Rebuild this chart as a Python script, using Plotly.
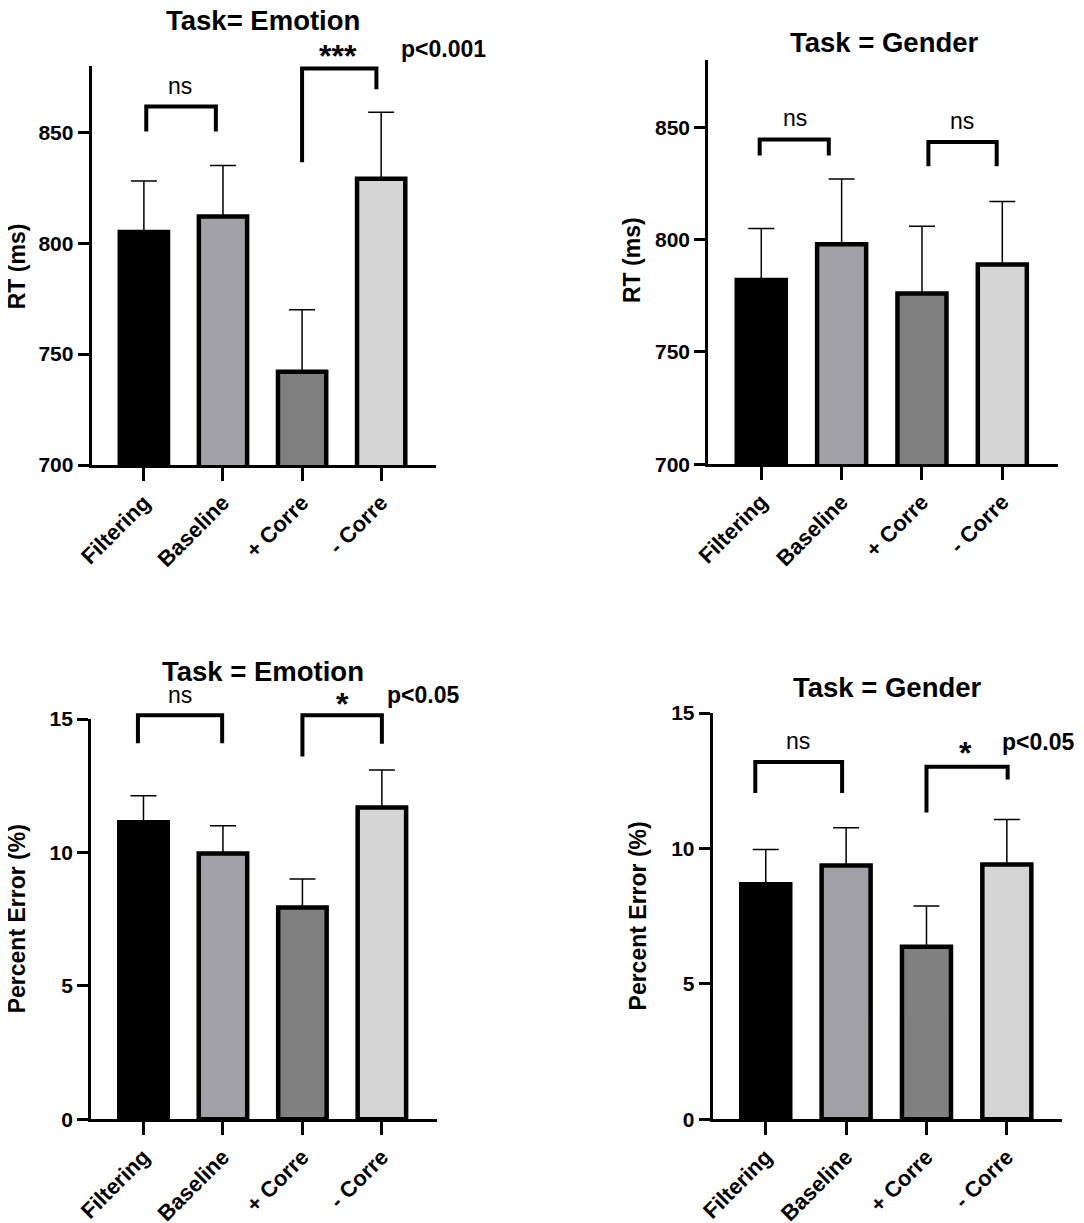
import plotly.graph_objects as go

categorias = ["Filtering", "Baseline", "+ Corre", "- Corre"]
cores = ["#000000", "#a2a2a6", "#808080", "#d5d5d5"]

rt_emocao = [805, 812, 742, 829]
rt_emocao_erro = [23, 23, 28, 30]
rt_genero = [782, 798, 776, 789]
rt_genero_erro = [23, 29, 30, 28]

erro_emocao = [11.13, 9.96, 7.94, 11.69]
erro_emocao_erro = [1.0, 1.04, 1.07, 1.4]
erro_genero = [8.68, 9.37, 6.37, 9.41]
erro_genero_erro = [1.28, 1.4, 1.51, 1.66]

rt_ticks = [700, 750, 800, 850]
erro_ticks = [0, 5, 10, 15]

# colchetes de comparacao: (x esq, x dir, y topo, y perna esq, y perna dir)
colchetes = [
    [(0.03, 0.91, 861.6, 850.3, 850.3), (2.0, 2.94, 878.7, 836.5, 869.4)],
    [(-0.02, 0.84, 844.6, 837.5, 837.5), (2.08, 2.93, 843.5, 832.7, 832.7)],
    [(-0.07, 0.99, 15.14, 14.09, 14.09), (2.0, 3.0, 15.14, 13.6, 14.07)],
    [(-0.13, 0.95, 13.19, 12.05, 12.05), (2.0, 3.01, 13.02, 11.33, 12.55)],
]

# rotulos de significancia: (texto, x, y, tipo)
rotulos = [
    [("ns", 0.46, 871, "ns"), ("***", 2.45, 887, "star"), ("p<0.001", 3.23, 887.6, "p")],
    [("ns", 0.42, 854, "ns"), ("ns", 2.5, 853, "ns")],
    [("ns", 0.46, 15.9, "ns"), ("*", 2.5, 15.8, "star"), ("p<0.05", 3.04, 15.9, "p")],
    [("ns", 0.40, 13.98, "ns"), ("*", 2.49, 13.74, "star"), ("p<0.05", 2.92, 13.94, "p")],
]

paineis = [
    dict(titulo="Task= Emotion", eixo="RT (ms)", medias=rt_emocao, erros=rt_emocao_erro,
         ticks=rt_ticks, faixa=[700, 880],
         dx=[0.0772, 0.3946], dy=[0.6263, 0.9528], tpos=(0.2352, 0.9894), epos=(0.0085, 0.7890)),
    dict(titulo="Task = Gender", eixo="RT (ms)", medias=rt_genero, erros=rt_genero_erro,
         ticks=rt_ticks, faixa=[700, 880],
         dx=[0.6460, 0.9684], dy=[0.6269, 0.9575], tpos=(0.8090, 0.9714), epos=(0.5756, 0.7939)),
    dict(titulo="Task = Emotion", eixo="Percent Error (%)", medias=erro_emocao, erros=erro_emocao_erro,
         ticks=erro_ticks, faixa=[0, 15],
         dx=[0.0766, 0.3955], dy=[0.0913, 0.4186], tpos=(0.2352, 0.4575), epos=(0.0080, 0.2554)),
    dict(titulo="Task = Gender", eixo="Percent Error (%)", medias=erro_genero, erros=erro_genero_erro,
         ticks=erro_ticks, faixa=[0, 15],
         dx=[0.6501, 0.9726], dy=[0.0913, 0.4235], tpos=(0.8118, 0.4440), epos=(0.5812, 0.2572)),
]

FONTE = "Liberation Sans"
posicoes = list(range(len(categorias)))


def em_dominio(v, faixa):
    # valor do eixo y -> fracao do dominio (permite ir acima do topo do eixo)
    return (v - faixa[0]) / (faixa[1] - faixa[0])


fig = go.Figure()
layout = dict(
    template="none",
    width=1084, height=1223,
    margin=dict(l=0, r=0, t=0, b=0, autoexpand=False),
    paper_bgcolor="white", plot_bgcolor="white",
    showlegend=False,
    annotations=[],
    shapes=[],
)

for i, p in enumerate(paineis):
    n = "" if i == 0 else str(i + 1)
    xa, ya = "x" + n, "y" + n

    fig.add_trace(go.Bar(
        x=posicoes, y=p["medias"], width=0.61,
        marker=dict(color=cores, line=dict(color="black", width=4.5)),
        error_y=dict(type="data", array=p["erros"], arrayminus=[0] * 4, symmetric=False,
                     color="black", thickness=1.5, width=13),
        xaxis=xa, yaxis=ya, hoverinfo="skip",
    ))

    for (x0, x1, yt, yl, yr) in colchetes[i]:
        f = p["faixa"]
        caminho = "M{},{} L{},{} L{},{} L{},{}".format(
            x0, em_dominio(yl, f), x0, em_dominio(yt, f),
            x1, em_dominio(yt, f), x1, em_dominio(yr, f))
        layout["shapes"].append(dict(
            type="path", path=caminho, xref=xa, yref=ya + " domain",
            line=dict(color="black", width=4), layer="above",
        ))

    layout["xaxis" + n] = dict(
        domain=p["dx"], anchor=ya, range=[-0.66, 3.69], automargin=False,
        tickvals=posicoes, ticktext=categorias, tickangle=-45,
        tickfont=dict(family=FONTE, size=22, color="black", weight="bold"),
        showline=True, linecolor="black", linewidth=3,
        ticks="outside", ticklen=13, tickwidth=3, tickcolor="black",
        showgrid=False, zeroline=False, fixedrange=True,
    )
    layout["yaxis" + n] = dict(
        domain=p["dy"], anchor=xa, range=p["faixa"], automargin=False,
        tickvals=p["ticks"],
        tickfont=dict(family=FONTE, size=21, color="black", weight="bold"),
        showline=True, linecolor="black", linewidth=3,
        ticks="outside", ticklen=11, tickwidth=3, tickcolor="black",
        showgrid=False, zeroline=False, fixedrange=True,
    )

    layout["annotations"].append(dict(
        text=p["titulo"], x=p["tpos"][0], y=p["tpos"][1], xref="paper", yref="paper",
        showarrow=False, xanchor="center", yanchor="middle",
        font=dict(family=FONTE, size=27.5, color="black", weight="bold"),
    ))
    layout["annotations"].append(dict(
        text=p["eixo"], x=p["epos"][0], y=p["epos"][1], xref="paper", yref="paper",
        showarrow=False, xanchor="center", yanchor="middle", textangle=-90,
        font=dict(family=FONTE, size=23, color="black", weight="bold"),
    ))

    for (txt, tx, ty, tipo) in rotulos[i]:
        if tipo == "ns":
            fonte = dict(family=FONTE, size=23, color="black")
            xanc, ysh = "center", 0
        elif tipo == "star":
            fonte = dict(family=FONTE, size=32, color="black", weight="bold")
            xanc, ysh = "center", -6
        else:
            fonte = dict(family=FONTE, size=23, color="black", weight="bold")
            xanc, ysh = "left", 0
        layout["annotations"].append(dict(
            text=txt, x=tx, y=em_dominio(ty, p["faixa"]), xref=xa, yref=ya + " domain",
            showarrow=False, xanchor=xanc, yanchor="middle", yshift=ysh, font=fonte,
        ))

fig.update_layout(**layout)

fig.write_html("out.html")
